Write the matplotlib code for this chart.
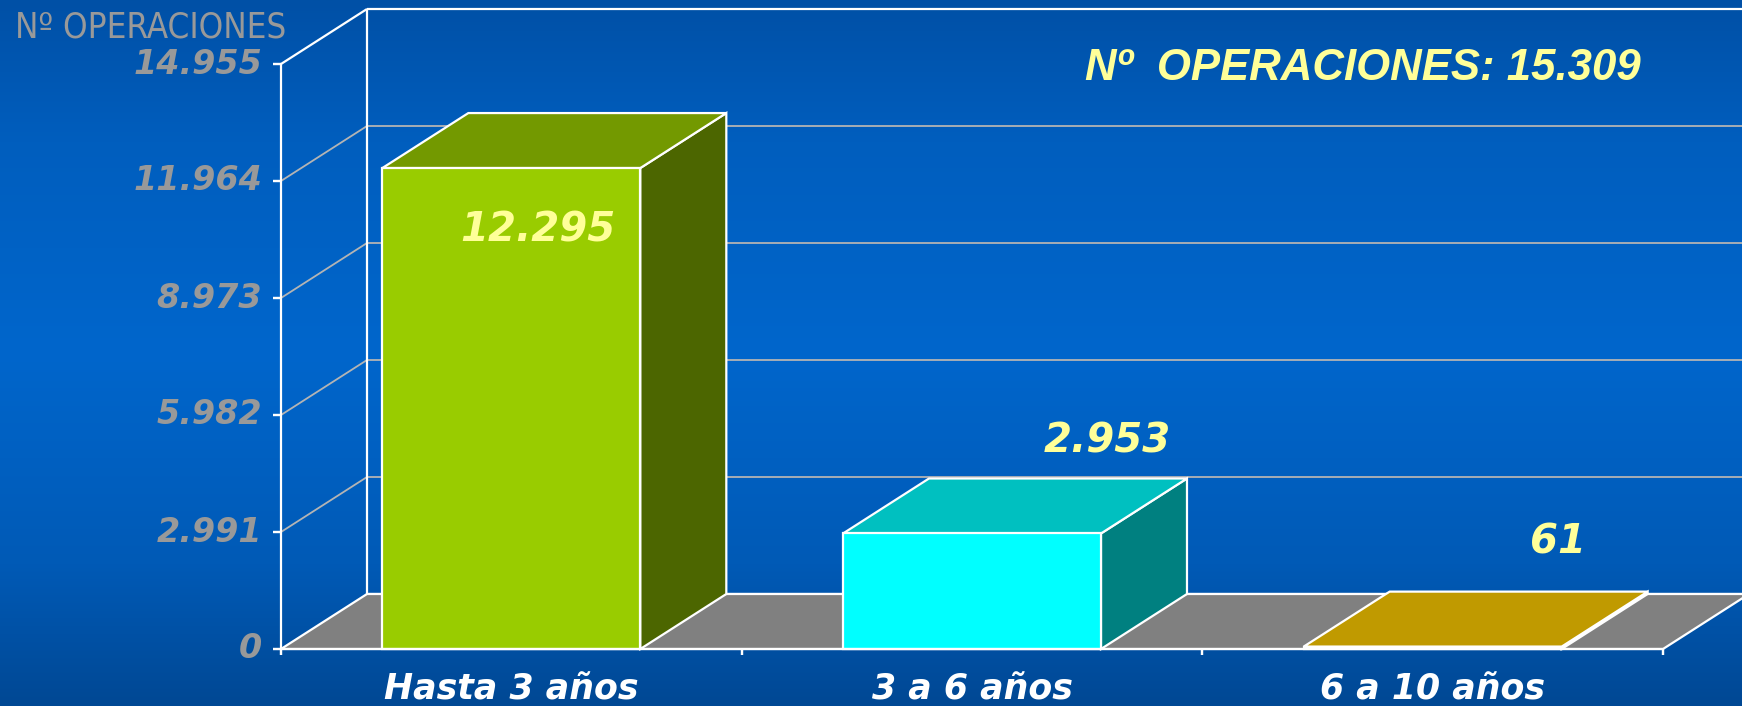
import numpy as np
import matplotlib
matplotlib.use("Agg")
import matplotlib.pyplot as plt
from matplotlib.patches import Polygon
from matplotlib.colors import LinearSegmentedColormap

# data
categories = ["Hasta 3 años", "3 a 6 años", "6 a 10 años"]
values = [12295, 2953, 61]
value_labels = ["12.295", "2.953", "61"]
y_ticks = [0, 2991, 5982, 8973, 11964, 14955]
y_tick_labels = ["0", "2.991", "5.982", "8.973", "11.964", "14.955"]
total_label = "Nº  OPERACIONES: 15.309"
axis_title = "Nº OPERACIONES"

# style
front_colors = ["#99CC00", "#00FFFF", "#C09A00"]
top_colors = ["#739900", "#00C0C0", "#C09A00"]
side_colors = ["#4C6600", "#008080", "#806600"]
label_offsets = [(27, -62), (135, 92), (125, 104)]  # px from front-top centre (right, up)
DEPTH = (86, 55)  # px, right and up
BAR_W = 0.56
YEL = "#FFFF99"
GREY_TXT = "#999999"

W, H = 1742, 706
fig = plt.figure(figsize=(W / 100, H / 100), dpi=100)

# background gradient
bg = fig.add_axes([0, 0, 1, 1])
bg.set_axis_off()
cmap = LinearSegmentedColormap.from_list(
    "bg", [(0, "#0050A6"), (0.2, "#005EBE"), (0.5, "#0066CC"),
           (0.8, "#005AB6"), (1, "#004894")])
bg.imshow(np.linspace(0, 1, 256).reshape(-1, 1), aspect="auto", cmap=cmap,
          extent=[0, 1, 0, 1])
bg.set_xlim(0, 1)
bg.set_ylim(0, 1)

ax = fig.add_axes([281 / W, 57 / H, (1663 - 281) / W, (642 - 57) / H])
ax.set_xlim(-0.5, len(categories) - 0.5)
ax.set_ylim(0, y_ticks[-1])
ax.set_axis_off()
ax.patch.set_visible(False)

p0 = ax.transData.transform((0, 0))
p1 = ax.transData.transform((1, 1))
dx = DEPTH[0] / (p1[0] - p0[0])
dy = DEPTH[1] / (p1[1] - p0[1])
x0, x1 = -0.5, len(categories) - 0.5
ytop = y_ticks[-1]

def line(xs, ys, color="white", lw=1.6, z=2):
    ax.plot(xs, ys, color=color, lw=lw, zorder=z, clip_on=False,
            solid_capstyle="butt")

# back wall gridlines and side-wall diagonals
for t in y_ticks[1:-1]:
    line([x0 + dx, x1 + 2 * dx], [t + dy, t + dy], color="#B4B4B4", lw=1.3, z=1)
    line([x0, x0 + dx], [t, t + dy], color="#B4B4B4", lw=1.3, z=1)
line([x0 + dx, x1 + 2 * dx], [ytop + dy, ytop + dy], z=1)
line([x0, x0 + dx], [ytop, ytop + dy], z=1)
line([x0 + dx, x0 + dx], [dy, ytop + dy], z=1)

# floor
floor = Polygon([(x0, 0), (x1, 0), (x1 + dx, dy), (x0 + dx, dy)],
                closed=True, facecolor="#808080", edgecolor="white",
                lw=1.6, zorder=2, clip_on=False)
ax.add_patch(floor)
line([x0 + dx, x1 + 2 * dx], [dy, dy], z=1)

# front axis
line([x0, x0], [0, ytop], z=6)
for t, lab in zip(y_ticks, y_tick_labels):
    ax.plot([x0, x0], [t, t], marker=[(-1, 0), (0, 0)], ms=11, mew=1.6,
            color="white", clip_on=False, zorder=6)
    ax.annotate(lab, (x0, t), xytext=(-19, 0), textcoords="offset pixels",
                ha="right", va="center", fontsize=24, color=GREY_TXT,
                fontweight="bold", fontstyle="italic", family="DejaVu Sans")
for i in range(len(categories) + 1):
    ax.plot([x0 + i, x0 + i], [0, 0], marker=[(0, 0), (0, -1)], ms=9,
            mew=1.6, color="white", clip_on=False, zorder=6)

# bars
for i, v in enumerate(values):
    l, r = i - BAR_W / 2, i + BAR_W / 2
    z = 3 + i * 0.1
    kw = dict(closed=True, edgecolor="white", lw=1.6, clip_on=False,
              joinstyle="miter")
    ax.add_patch(Polygon([(r, 0), (r + dx, dy), (r + dx, v + dy), (r, v)],
                         facecolor=side_colors[i], zorder=z, **kw))
    ax.add_patch(Polygon([(l, v), (r, v), (r + dx, v + dy), (l + dx, v + dy)],
                         facecolor=top_colors[i], zorder=z, **kw))
    ax.add_patch(Polygon([(l, 0), (r, 0), (r, v), (l, v)],
                         facecolor=front_colors[i], zorder=z, **kw))
    ox, oy = label_offsets[i]
    ax.annotate(value_labels[i], (i, v), xytext=(ox, oy),
                textcoords="offset pixels", ha="center", va="center",
                fontsize=29, color=YEL, fontweight="bold", fontstyle="italic",
                family="DejaVu Sans", zorder=10)
    ax.annotate(categories[i], (i, 0), xytext=(0, -40),
                textcoords="offset pixels", ha="center", va="center",
                fontsize=25, color="white", fontweight="bold",
                fontstyle="italic", family="DejaVu Sans")

line([x0, x1], [0, 0], z=6)

fig.text(15 / W, 1 - 28 / H, axis_title, ha="left", va="center", fontsize=25,
         color=GREY_TXT, family="DejaVu Sans", fontstretch="condensed")
fig.text(1085 / W, 1 - 69 / H, total_label, ha="left", va="center",
         fontsize=31.5, color=YEL, fontweight="bold", fontstyle="italic",
         family=["Liberation Sans", "DejaVu Sans"])

fig.savefig("out.png", dpi=100)
